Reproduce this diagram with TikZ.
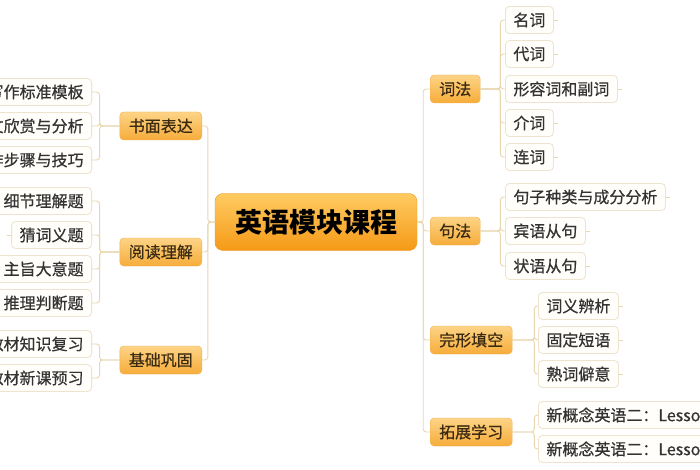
\documentclass[tikz,border=0pt]{standalone}
\usepackage{fontspec}
\setmainfont{Noto Sans CJK SC}
\newfontfamily\mapfont{Noto Sans CJK SC}[FakeBold=0.6]
\definecolor{linkc}{HTML}{E9D7B0}
\definecolor{roottop}{HTML}{FFCB62}
\definecolor{rootbot}{HTML}{F59A17}
\definecolor{rootline}{HTML}{EE9B2A}
\definecolor{toptop}{HTML}{FDD486}
\definecolor{topbot}{HTML}{F6AC3A}
\definecolor{topline}{HTML}{F1B04F}
\definecolor{toptext}{HTML}{3A2A12}
\definecolor{leafline}{HTML}{EDE3CE}
\definecolor{leaffill}{HTML}{FFFEFB}
\definecolor{leaftext}{HTML}{333333}
\begin{document}
\begin{tikzpicture}[x=1pt,y=-1pt,
  root/.style={draw=rootline,top color=roottop,bottom color=rootbot,rounded corners=8pt,
    minimum width=202pt,minimum height=57pt,font=\fontsize{27}{30}\selectfont\bfseries},
  topic/.style={draw=topline,top color=toptop,bottom color=topbot,rounded corners=4pt,
    minimum height=28pt,inner xsep=9pt,inner ysep=0pt,text=toptext,font=\mapfont\fontsize{16}{18}\selectfont},
  leaf/.style={draw=leafline,fill=leaffill,rounded corners=4pt,line width=0.8pt,
    minimum height=27pt,inner xsep=8pt,inner ysep=0pt,text=leaftext,font=\mapfont\fontsize{16}{18}\selectfont},
  link/.style={draw=linkc,line width=0.9pt,rounded corners=3pt}]
\useasboundingbox[fill=white] (0,0) rectangle (700,470);
\node[root] (z) at (316,222) {英语模块课程};
% right side
\node[topic,anchor=west] (a) at (430,89) {词法};
\node[topic,anchor=west] (b) at (430,231) {句法};
\node[topic,anchor=west] (c) at (430,340) {完形填空};
\node[topic,anchor=west] (d) at (430,432) {拓展学习};
\node[leaf,anchor=west] (a1) at (505,20) {名词};
\node[leaf,anchor=west] (a2) at (505,54) {代词};
\node[leaf,anchor=west] (a3) at (505,89) {形容词和副词};
\node[leaf,anchor=west] (a4) at (505,123) {介词};
\node[leaf,anchor=west] (a5) at (505,157) {连词};
\node[leaf,anchor=west] (b1) at (505,197) {句子种类与成分分析};
\node[leaf,anchor=west] (b2) at (505,231) {宾语从句};
\node[leaf,anchor=west] (b3) at (505,266) {状语从句};
\node[leaf,anchor=west] (c1) at (538,306) {词义辨析};
\node[leaf,anchor=west] (c2) at (538,340) {固定短语};
\node[leaf,anchor=west] (c3) at (538,374) {熟词僻意};
\node[leaf,anchor=west] (d1) at (538,415) {新概念英语二：Lesson};
\node[leaf,anchor=west] (d2) at (538,449) {新概念英语二：Lesson};
% left side
\node[topic,anchor=east] (e) at (202,126) {书面表达};
\node[topic,anchor=east] (f) at (202,252) {阅读理解};
\node[topic,anchor=east] (g) at (202,360) {基础巩固};
\node[leaf,anchor=east] (e1) at (92,92) {写作标准模板};
\node[leaf,anchor=east] (e2) at (92,126) {范文欣赏与分析};
\node[leaf,anchor=east] (e3) at (92,160) {写作步骤与技巧};
\node[leaf,anchor=east] (f1) at (92,201) {细节理解题};
\node[leaf,anchor=east] (f2) at (92,235) {猜词义题};
\node[leaf,anchor=east] (f3) at (92,269) {主旨大意题};
\node[leaf,anchor=east] (f4) at (92,303) {推理判断题};
\node[leaf,anchor=east] (g1) at (92,344) {教材知识复习};
\node[leaf,anchor=east] (g2) at (92,378) {教材新课预习};
% connectors
\draw[link] (z.east) -- ++(6,0) |- (a.west);
\draw[link] (z.east) -- ++(6,0) |- (b.west);
\draw[link] (z.east) -- ++(6,0) |- (c.west);
\draw[link] (z.east) -- ++(6,0) |- (d.west);
\draw[link] (z.west) -- ++(-7,0) |- (e.east);
\draw[link] (z.west) -- ++(-7,0) |- (f.east);
\draw[link] (z.west) -- ++(-7,0) |- (g.east);
\draw[link] (a.east) -- ++(20,0) |- (a1.west);
\draw[link] (a.east) -- ++(20,0) |- (a2.west);
\draw[link] (a.east) -- ++(20,0) |- (a3.west);
\draw[link] (a.east) -- ++(20,0) |- (a4.west);
\draw[link] (a.east) -- ++(20,0) |- (a5.west);
\draw[link] (b.east) -- ++(20,0) |- (b1.west);
\draw[link] (b.east) -- ++(20,0) |- (b2.west);
\draw[link] (b.east) -- ++(20,0) |- (b3.west);
\draw[link] (c.east) -- ++(22,0) |- (c1.west);
\draw[link] (c.east) -- ++(22,0) |- (c2.west);
\draw[link] (c.east) -- ++(22,0) |- (c3.west);
\draw[link] (d.east) -- ++(22,0) |- (d1.west);
\draw[link] (d.east) -- ++(22,0) |- (d2.west);
\draw[link] (e.west) -- ++(-20,0) |- (e1.east);
\draw[link] (e.west) -- ++(-20,0) |- (e2.east);
\draw[link] (e.west) -- ++(-20,0) |- (e3.east);
\draw[link] (f.west) -- ++(-20,0) |- (f1.east);
\draw[link] (f.west) -- ++(-20,0) |- (f2.east);
\draw[link] (f.west) -- ++(-20,0) |- (f3.east);
\draw[link] (f.west) -- ++(-20,0) |- (f4.east);
\draw[link] (g.west) -- ++(-20,0) |- (g1.east);
\draw[link] (g.west) -- ++(-20,0) |- (g2.east);
% stubs on the leaves
\draw[link] (a1.east) -- ++(4,0);
\draw[link] (a2.east) -- ++(4,0);
\draw[link] (a3.east) -- ++(4,0);
\draw[link] (a4.east) -- ++(4,0);
\draw[link] (a5.east) -- ++(4,0);
\draw[link] (b1.east) -- ++(4,0);
\draw[link] (b2.east) -- ++(4,0);
\draw[link] (b3.east) -- ++(4,0);
\draw[link] (c1.east) -- ++(4,0);
\draw[link] (c2.east) -- ++(4,0);
\draw[link] (c3.east) -- ++(4,0);
\draw[link] (f2.west) -- ++(-4,0);
\end{tikzpicture}
\end{document}
